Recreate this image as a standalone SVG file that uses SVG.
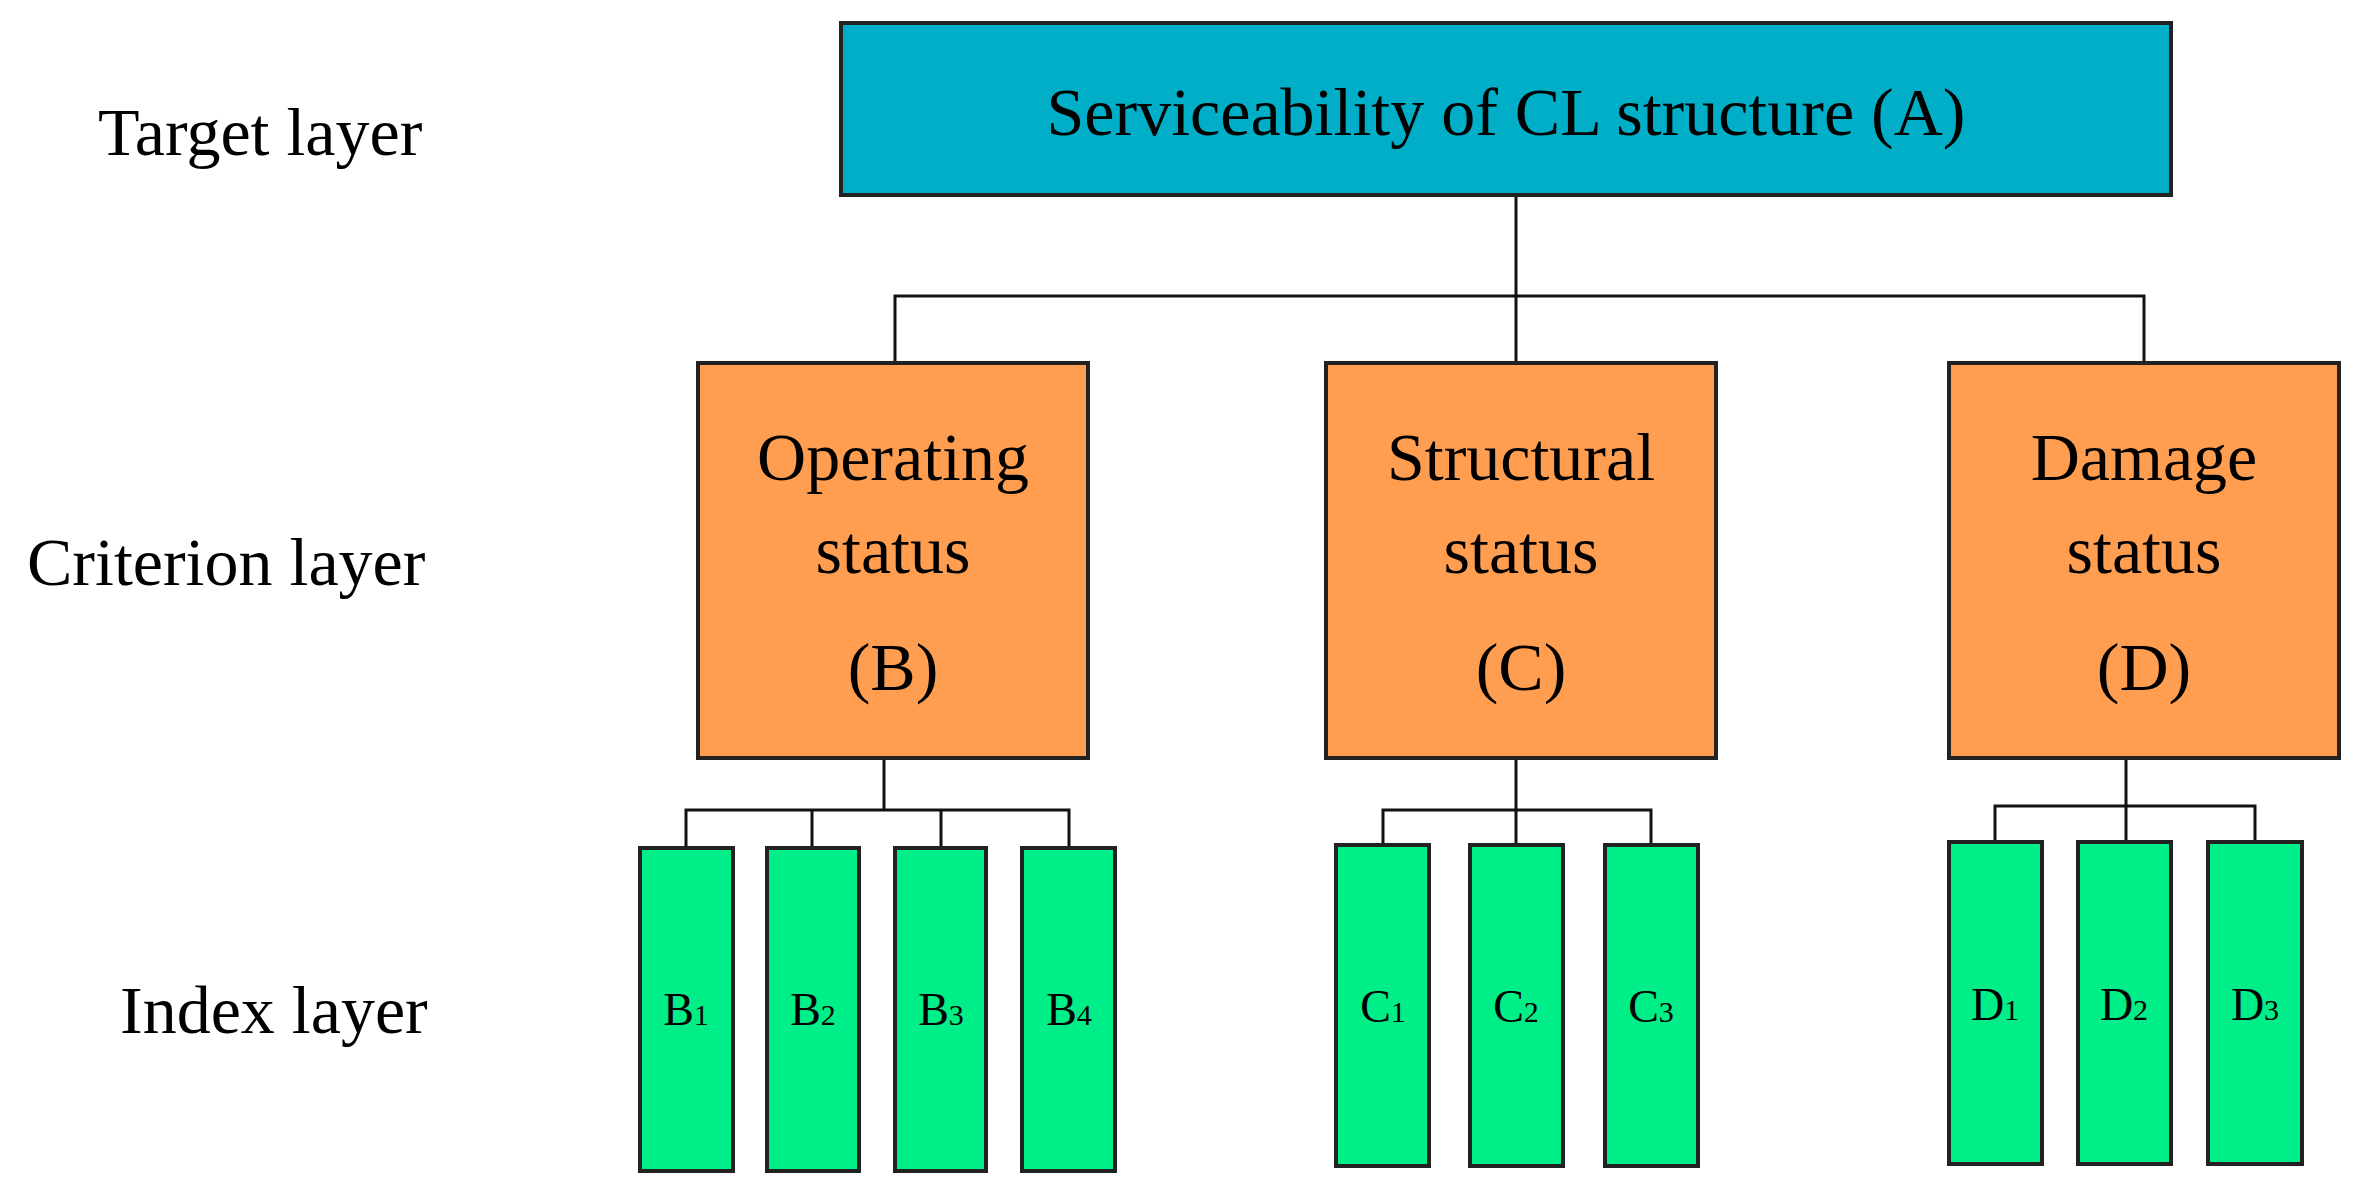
<svg xmlns="http://www.w3.org/2000/svg" width="2354" height="1194" viewBox="0 0 2354 1194">
<style>
text{font-family:"Liberation Serif","DejaVu Serif",serif;fill:#000}
.big{font-size:68px;text-anchor:middle}
.lab{font-size:68px}
.idx{font-size:46px;text-anchor:middle}
.sub{font-size:30px}
.a{fill:#00AEC7;stroke:#222;stroke-width:4}
.o{fill:#FF9E50;stroke:#222;stroke-width:4}
.g{fill:#00EE88;stroke:#222;stroke-width:4}
.c{stroke:#111;stroke-width:3;fill:none}
</style>
<rect width="2354" height="1194" fill="#fff"/>
<text class="lab" x="98" y="155">Target layer</text>
<text class="lab" x="27" y="585">Criterion layer</text>
<text class="lab" x="120" y="1033">Index layer</text>
<g id="connectors">
<path class="c" d="M1516 195V296M895 363V296H2144V363M1516 296V363"/>
<path class="c" d="M884 758V810M686 848V810H1069V848M812 810V848M941 810V848"/>
<path class="c" d="M1516 758V845M1383 845V810H1651V845"/>
<path class="c" d="M2126 758V842M1995 842V806H2255V842"/>
</g>
<g id="A"><rect class="a" x="841" y="23" width="1330" height="172"/><text class="big" x="1506" y="135">Serviceability of CL structure (A)</text></g>
<g id="B"><rect class="o" x="698" y="363" width="390" height="395"/><text class="big" x="893" y="480">Operating</text><text class="big" x="893" y="573">status</text><text class="big" x="893" y="690">(B)</text></g>
<g id="C"><rect class="o" x="1326" y="363" width="390" height="395"/><text class="big" x="1521" y="480">Structural</text><text class="big" x="1521" y="573">status</text><text class="big" x="1521" y="690">(C)</text></g>
<g id="D"><rect class="o" x="1949" y="363" width="390" height="395"/><text class="big" x="2144" y="480">Damage</text><text class="big" x="2144" y="573">status</text><text class="big" x="2144" y="690">(D)</text></g>
<g id="B1"><rect class="g" x="640" y="848" width="93" height="323"/><text class="idx" x="686" y="1025">B<tspan class="sub">1</tspan></text></g>
<g id="B2"><rect class="g" x="767" y="848" width="92" height="323"/><text class="idx" x="813" y="1025">B<tspan class="sub">2</tspan></text></g>
<g id="B3"><rect class="g" x="895" y="848" width="91" height="323"/><text class="idx" x="941" y="1025">B<tspan class="sub">3</tspan></text></g>
<g id="B4"><rect class="g" x="1022" y="848" width="93" height="323"/><text class="idx" x="1069" y="1025">B<tspan class="sub">4</tspan></text></g>
<g id="C1"><rect class="g" x="1336" y="845" width="93" height="321"/><text class="idx" x="1383" y="1022">C<tspan class="sub">1</tspan></text></g>
<g id="C2"><rect class="g" x="1470" y="845" width="93" height="321"/><text class="idx" x="1516" y="1022">C<tspan class="sub">2</tspan></text></g>
<g id="C3"><rect class="g" x="1605" y="845" width="93" height="321"/><text class="idx" x="1651" y="1022">C<tspan class="sub">3</tspan></text></g>
<g id="D1"><rect class="g" x="1949" y="842" width="93" height="322"/><text class="idx" x="1995" y="1020">D<tspan class="sub">1</tspan></text></g>
<g id="D2"><rect class="g" x="2078" y="842" width="93" height="322"/><text class="idx" x="2124" y="1020">D<tspan class="sub">2</tspan></text></g>
<g id="D3"><rect class="g" x="2208" y="842" width="94" height="322"/><text class="idx" x="2255" y="1020">D<tspan class="sub">3</tspan></text></g>
</svg>
